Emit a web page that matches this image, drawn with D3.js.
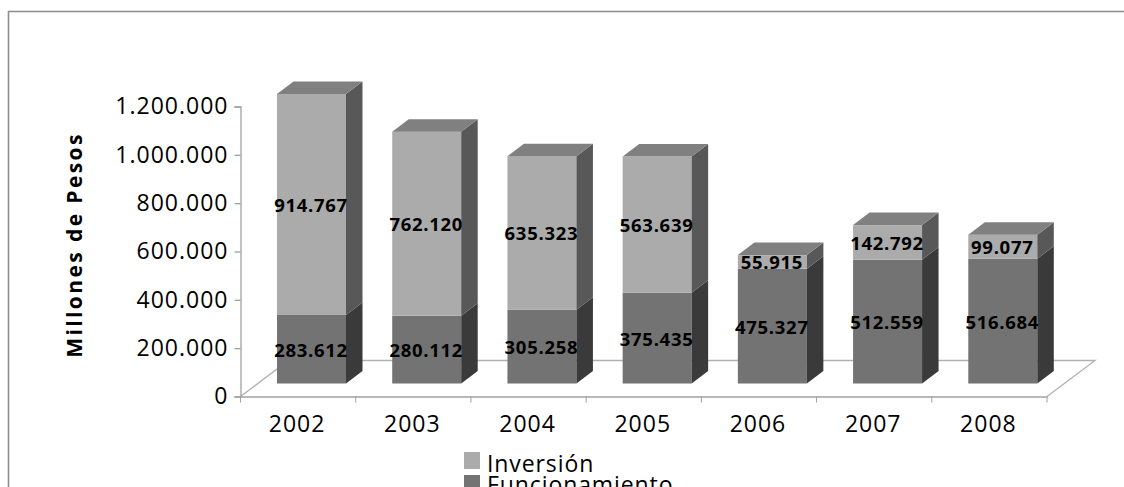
<!DOCTYPE html>
<html>
<head>
<meta charset="utf-8">
<script src="https://cdn.jsdelivr.net/npm/d3@7"></script>
<style>
html, body { margin: 0; padding: 0; background: #fff; overflow: hidden; }
svg { display: block; }
text { font-family: "Open Sans", sans-serif; fill: #000; }
.tickLabel { font-size: 23px; letter-spacing: 1px; }
.valueLabel { font-size: 18.5px; font-weight: 700; letter-spacing: 0.7px; text-anchor: middle; dominant-baseline: central; }
</style>
</head>
<body>
<div id="chart"></div>
<script>
var years = ["2002", "2003", "2004", "2005", "2006", "2007", "2008"];
var funcionamiento = [283612, 280112, 305258, 375435, 475327, 512559, 516684];
var inversion = [914767, 762120, 635323, 563639, 55915, 142792, 99077];
var yTicks = [0, 200000, 400000, 600000, 800000, 1000000, 1200000];
var legendNames = ["Inversión", "Funcionamiento"];

var width = 1124, height = 487;

// 3d look: floor depth and bar depth, in px
var floorDx = 48, floorDy = -36;
var barDx = 16.5, barDy = -12.5;
var barW = 69;
var barShift = 36.5;  // front of the bar sits this far into the band
var barLift = 13;

var axisColor = "#a0a0a0";
var fmt = d3.formatLocale({decimal: ",", thousands: ".", grouping: [3], currency: ["$", ""]}).format(",d");

var svg = d3.select("#chart").append("svg")
    .attr("width", width)
    .attr("height", height);

var xScale = d3.scaleBand().domain(years).range([240.5, 1047]);
var yScale = d3.scaleLinear().domain([0, 1200000]).range([396.5, 106.5]);

//outer frame, only top and left are in the picture
svg.append("path")
    .attr("d", "M8.5," + height + " V11.5 H" + width)
    .attr("fill", "none")
    .attr("stroke", "#8c8c8c")
    .attr("stroke-width", 1.6);

//floor
svg.append("path")
    .attr("d", "M240.5,396.5 l" + floorDx + "," + floorDy + " H" + (1047 + floorDx) + " L1047,396.5")
    .attr("fill", "none")
    .attr("stroke", "#b0b0b0")
    .attr("stroke-width", 1.3);

//bars
function front(v) { return yScale(v) - barLift; }

function drawSegment(g, base, top, colors) {
    var x0 = barShift, x1 = barShift + barW;
    var y0 = front(base), y1 = front(top);
    g.append("rect")
        .attr("x", x0).attr("y", y1)
        .attr("width", barW).attr("height", y0 - y1)
        .attr("fill", colors.front);
    g.append("path")
        .attr("d", "M" + x1 + "," + y0 + " l" + barDx + "," + barDy + " V" + (y1 + barDy) + " L" + x1 + "," + y1 + "Z")
        .attr("fill", colors.side);
}

var inversionColors = {front: "#ababab", side: "#585858", top: "#808080"};
var funcColors = {front: "#737373", side: "#3a3a3a"};

years.forEach(function(year, i) {
    var g = svg.append("g").attr("transform", "translate(" + xScale(year) + ",0)");
    var total = funcionamiento[i] + inversion[i];
    drawSegment(g, 0, funcionamiento[i], funcColors);
    drawSegment(g, funcionamiento[i], total, inversionColors);
    g.append("path")
        .attr("d", "M" + barShift + "," + front(total) + " l" + barDx + "," + barDy + " h" + barW + " l" + (-barDx) + "," + (-barDy) + "Z")
        .attr("fill", inversionColors.top);
});

//axes
var yAxis = svg.append("g")
    .attr("transform", "translate(240.5,0)")
    .call(d3.axisLeft(yScale).tickValues(yTicks).tickFormat(fmt).tickSize(6).tickPadding(6));

var xAxis = svg.append("g")
    .attr("transform", "translate(0,396.5)")
    .call(d3.axisBottom(xScale).tickSize(0).tickPadding(19));

[yAxis, xAxis].forEach(function(a) {
    a.attr("font-family", null).attr("font-size", null);
    a.selectAll("text").attr("class", "tickLabel").attr("fill", null);
    a.selectAll("path, line").attr("stroke", axisColor).attr("stroke-width", 1.3);
});
xAxis.selectAll(".tick text").attr("dx", -1);

//category separators on the x axis
xAxis.selectAll(".sep")
    .data(years.concat(["end"]))
    .enter().append("line")
    .attr("class", "sep")
    .attr("x1", function(d, i) { return xScale.range()[0] + i * xScale.step(); })
    .attr("x2", function(d, i) { return xScale.range()[0] + i * xScale.step(); })
    .attr("y1", 0).attr("y2", 6)
    .attr("stroke", axisColor);

//value labels, centred on each segment
years.forEach(function(year, i) {
    var cx = xScale(year) + barShift + barW / 2 - 0.5;
    var f = funcionamiento[i], v = inversion[i];
    svg.append("text").attr("class", "valueLabel")
        .attr("x", cx).attr("y", (front(0) + front(f)) / 2)
        .text(fmt(f));
    svg.append("text").attr("class", "valueLabel")
        .attr("x", cx).attr("y", (front(f) + front(f + v)) / 2)
        .text(fmt(v));
});

//axis title
svg.append("text")
    .attr("transform", "translate(74,245) rotate(-90)")
    .attr("text-anchor", "middle")
    .attr("dominant-baseline", "central")
    .style("font-size", "21px")
    .style("font-weight", 700)
    .style("letter-spacing", "2.4px")
    .text("Millones de Pesos");

//legend
var legendColors = [inversionColors.front, funcColors.front];
var legendY = d3.scalePoint().domain(legendNames).range([452, 475]);
var legendText = d3.scalePoint().domain(legendNames).range([471.5, 493]);

legendNames.forEach(function(name, i) {
    svg.append("rect")
        .attr("x", 464).attr("y", legendY(name))
        .attr("width", 16).attr("height", 17)
        .attr("fill", legendColors[i]);
    svg.append("text")
        .attr("x", 487).attr("y", legendText(name))
        .style("font-size", "23px")
        .style("letter-spacing", "0.9px")
        .text(name);
});
</script>
</body>
</html>
